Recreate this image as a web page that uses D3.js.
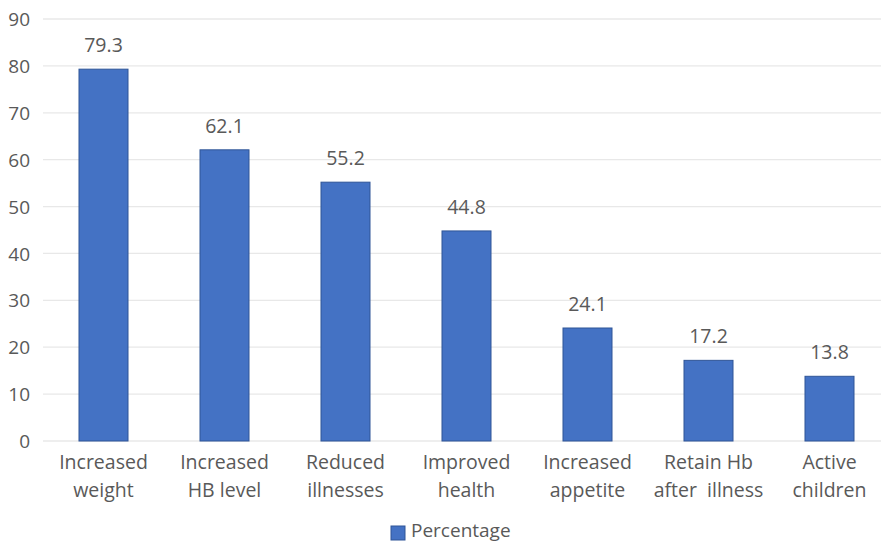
<!DOCTYPE html>
<html><head><meta charset="utf-8">
<script src="https://cdn.jsdelivr.net/npm/d3@7"></script>
<style>body{margin:0;background:#fff}text{font-family:"Open Sans",sans-serif;fill:#595959}</style>
</head><body>
<svg id="c" width="881" height="543"></svg>
<script>
const categories = [["Increased","weight"],["Increased","HB level"],["Reduced","illnesses"],["Improved","health"],["Increased","appetite"],["Retain Hb","after  illness"],["Active","children"]];
const values = [79.3, 62.1, 55.2, 44.8, 24.1, 17.2, 13.8];
const yTicks = [0,10,20,30,40,50,60,70,80,90];
const seriesName = "Percentage";

const FS = 19.5;
const svg = d3.select("#c");
const pLeft = 43, pRight = 890, pTop = 19, pBottom = 441;
const x = d3.scaleBand().domain(d3.range(values.length)).range([pLeft, pRight]).paddingInner(0.595).paddingOuter(0.2975);
const y = d3.scaleLinear().domain([0, 90]).range([pBottom, pTop]);

// gridlines
svg.append("g").selectAll("line").data(yTicks).join("line")
  .attr("x1", pLeft).attr("x2", pRight)
  .attr("y1", d => y(d)).attr("y2", d => y(d))
  .attr("stroke", "#E8E8E8").attr("stroke-width", 1.3);

// y axis labels
const yAxis = d3.axisLeft(y).tickValues(yTicks).tickSize(0).tickPadding(0);
const ga = svg.append("g").attr("transform", `translate(${30},0)`).call(yAxis);
ga.select(".domain").remove();
ga.selectAll("text").attr("font-size", 19).attr("fill", "#595959").style("font-family", '"Open Sans",sans-serif').attr("dy", "0.35em");

// bars
svg.append("g").selectAll("rect").data(values).join("rect")
  .attr("x", (d, i) => x(i)).attr("width", x.bandwidth())
  .attr("y", d => y(d)).attr("height", d => y(0) - y(d))
  .attr("fill", "#4472C4").attr("stroke", "#2F5597").attr("stroke-width", 1);

// value labels
svg.append("g").selectAll("text").data(values).join("text")
  .attr("x", (d, i) => x(i) + x.bandwidth() / 2).attr("y", d => y(d) - 17)
  .attr("text-anchor", "middle").attr("font-size", FS)
  .text(d => d.toFixed(1));

// category labels
const cl = svg.append("g").selectAll("text").data(categories).join("text")
  .attr("text-anchor", "middle").attr("font-size", FS);
cl.each(function(lines, i) {
  const t = d3.select(this);
  lines.forEach((ln, j) => {
    t.append("tspan").attr("x", x(i) + x.bandwidth() / 2).attr("y", 469 + j * 28).text(ln.replace(/ /g, "\u00a0"));
  });
});

// legend
svg.append("rect").attr("x", 391).attr("y", 526).attr("width", 14).attr("height", 14)
  .attr("fill", "#4472C4").attr("stroke", "#2F5597").attr("stroke-width", 1);
svg.append("text").attr("x", 411).attr("y", 537).attr("font-size", 19).text(seriesName);
</script>
</body></html>
